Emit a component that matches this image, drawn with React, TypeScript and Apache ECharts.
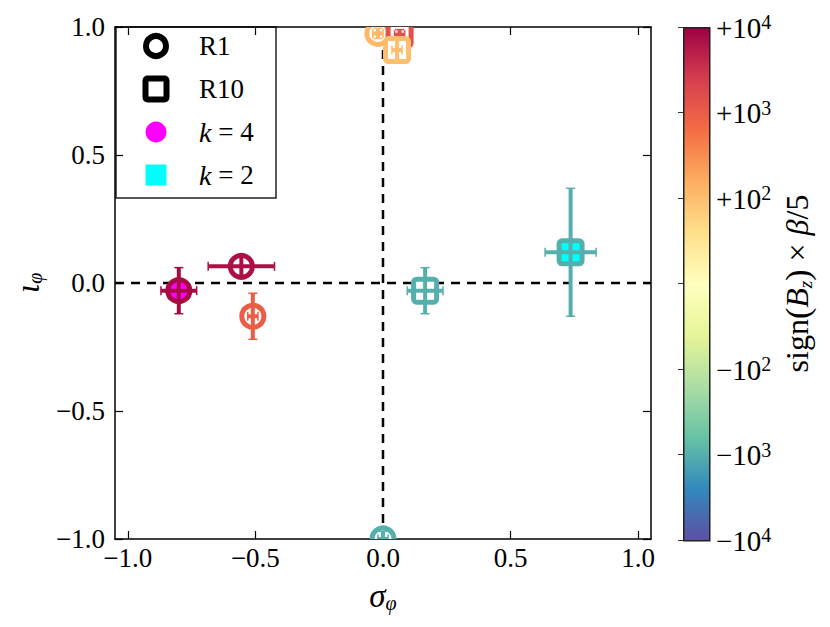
import React, { useEffect, useRef } from 'react';
import * as echarts from 'echarts';

// ---- data ----
const sigmaPhi = [-0.8, -0.555, -0.51, 0.165, 0.735, 0.0, -0.02, 0.065, 0.055];
const iotaPhi = [-0.03, 0.065, -0.13, -0.03, 0.12, -1.0, 0.975, 0.97, 0.91];
const sigmaErr = [0.07, 0.13, 0.02, 0.07, 0.1, 0.02, 0.02, 0.02, 0.02];
const iotaErr = [0.09, 0.035, 0.09, 0.09, 0.25, 0.03, 0.02, 0.02, 0.045];
const markerKind = ['R1', 'R1', 'R1', 'R10', 'R10', 'R1', 'R1', 'R10', 'R10'];
const faceKind = ['k4', 'none', 'none', 'none', 'k2', 'none', 'none', 'none', 'none'];
const signBzBeta = [8000, 7000, 1000, -1000, -1000, -1000, 120, 1500, 100];

const xTicks = [-1.0, -0.5, 0.0, 0.5, 1.0];
const cbarTicks = [-3, -2, -1, 0, 1, 2, 3];
const cbarLabels = ['−10|4', '−10|3', '−10|2', '', '+10|2', '+10|3', '+10|4'];
const legendNames = ['R1', 'R10', 'k = 4', 'k = 2'];

const spectral = ['#9e0142', '#d53e4f', '#f46d43', '#fdae61', '#fee08b', '#ffffbf', '#e6f598', '#abdda4', '#66c2a5', '#3288bd', '#5e4fa2'];
const faceColors: Record<string, string> = { k4: '#ff00ff', k2: '#00ffff', none: '#ffffff' };

const FONT = 'Liberation Serif';

function hexToRgb(h: string) {
  const n = parseInt(h.slice(1), 16);
  return [(n >> 16) & 255, (n >> 8) & 255, n & 255];
}
function symlogPos(v: number) {
  const a = Math.abs(v);
  const t = a < 100 ? a / 100 : Math.log10(a) - 1;
  return Math.sign(v) * t;
}
function colorFor(v: number) {
  const p = (symlogPos(v) + 3) / 6; // 0 = bottom (purple), 1 = top (crimson)
  const s = Math.max(0, Math.min(10, (1 - p) * 10));
  const i = Math.min(9, Math.floor(s));
  const f = s - i;
  const a = hexToRgb(spectral[i]);
  const b = hexToRgb(spectral[i + 1]);
  const c = a.map((x, k) => Math.round(x + (b[k] - x) * f));
  return `rgb(${c[0]},${c[1]},${c[2]})`;
}

const fmtTick = (v: number) => (v < 0 ? '−' : '') + Math.abs(v).toFixed(1);

export default function App() {
  const ref = useRef<HTMLDivElement>(null);
  useEffect(() => {
    const chart = echarts.init(ref.current!, null, { renderer: 'svg' });

    const pointData = sigmaPhi.map((x, i) => [x, iotaPhi[i], sigmaErr[i], iotaErr[i], signBzBeta[i], i]);

    const axisLine = { show: true, onZero: false, lineStyle: { color: '#000', width: 1.5 } };
    const tickStyle = { color: '#000', width: 1.2 };

    const legendX = 156;
    const legendYs = [46, 89, 132, 175];

    const option: any = {
      animation: false,
      backgroundColor: '#fff',
      grid: [
        { left: 115, top: 27, width: 536, height: 512 },
        { left: 683, top: 27, width: 26, height: 513 },
      ],
      xAxis: [
        {
          gridIndex: 0, type: 'value', min: -1.05, max: 1.05, position: 'bottom',
          axisLine, splitLine: { show: false },
          axisTick: { inside: true, length: 8, lineStyle: tickStyle, customValues: xTicks },
          axisLabel: { customValues: xTicks, formatter: fmtTick, fontFamily: FONT, fontSize: 27, color: '#000', margin: 5 },
          name: '{a|σ}{b|φ}', nameLocation: 'middle', nameGap: 40,
          nameTextStyle: {
            rich: {
              a: { fontFamily: FONT, fontStyle: 'italic', fontSize: 33, lineHeight: 34, verticalAlign: 'middle', color: '#000' },
              b: { fontFamily: FONT, fontStyle: 'italic', fontSize: 20, lineHeight: 34, verticalAlign: 'bottom', color: '#000' },
            },
          },
        },
        {
          gridIndex: 0, type: 'value', min: -1.05, max: 1.05, position: 'top',
          axisLine, splitLine: { show: false },
          axisTick: { inside: true, length: 8, lineStyle: tickStyle, customValues: xTicks },
          axisLabel: { show: false },
        },
        { gridIndex: 1, type: 'value', min: 0, max: 1, show: false },
      ],
      yAxis: [
        {
          gridIndex: 0, type: 'value', min: -1, max: 1, interval: 0.5, position: 'left',
          axisLine, splitLine: { show: false },
          axisTick: { inside: true, length: 8, lineStyle: tickStyle },
          axisLabel: { formatter: fmtTick, fontFamily: FONT, fontSize: 27, color: '#000', margin: 10 },
          name: '{a|ι}{b|φ}', nameLocation: 'middle', nameGap: 70, nameRotate: 90,
          nameTextStyle: {
            rich: {
              a: { fontFamily: FONT, fontStyle: 'italic', fontSize: 34, lineHeight: 36, verticalAlign: 'middle', color: '#000' },
              b: { fontFamily: FONT, fontStyle: 'italic', fontSize: 20, lineHeight: 36, verticalAlign: 'bottom', color: '#000' },
            },
          },
        },
        {
          gridIndex: 0, type: 'value', min: -1, max: 1, interval: 0.5, position: 'right',
          axisLine, splitLine: { show: false },
          axisTick: { inside: true, length: 8, lineStyle: tickStyle },
          axisLabel: { show: false },
        },
        {
          gridIndex: 1, type: 'value', min: -3, max: 3, interval: 1, position: 'right',
          axisLine: { show: false }, splitLine: { show: false },
          axisTick: { inside: true, length: 5, lineStyle: { color: '#333', width: 1 } },
          axisLabel: {
            margin: 7, color: '#000',
            formatter: (v: number) => {
              const idx = cbarTicks.indexOf(Math.round(v));
              const lab = idx >= 0 ? cbarLabels[idx] : '';
              if (!lab) return '';
              const [base, sup] = lab.split('|');
              return `{b|${base}}{s|${sup}}`;
            },
            rich: {
              b: { fontFamily: FONT, fontSize: 29, lineHeight: 30, verticalAlign: 'bottom', color: '#000' },
              s: { fontFamily: FONT, fontSize: 20, lineHeight: 30, verticalAlign: 'top', color: '#000' },
            },
          },
          name: '{t|sign}{p|(}{i|B}{z|z}{p|)}{t| × }{i|β}{t|/5}', nameLocation: 'middle', nameGap: 70, nameRotate: 90,
          nameTextStyle: {
            rich: {
              t: { fontFamily: FONT, fontSize: 32, lineHeight: 36, verticalAlign: 'middle', color: '#000' },
              p: { fontFamily: FONT, fontSize: 34, lineHeight: 36, verticalAlign: 'middle', color: '#000' },
              i: { fontFamily: FONT, fontStyle: 'italic', fontSize: 32, lineHeight: 36, verticalAlign: 'middle', color: '#000' },
              z: { fontFamily: FONT, fontStyle: 'italic', fontSize: 19, lineHeight: 36, verticalAlign: 'bottom', color: '#000' },
            },
          },
        },
      ],
      graphic: [
        {
          type: 'rect', z: -1, left: 683, top: 27,
          shape: { width: 26, height: 513 },
          style: {
            fill: new echarts.graphic.LinearGradient(0, 0, 0, 1,
              spectral.map((c, i) => ({ offset: i / (spectral.length - 1), color: c }))),
            stroke: '#222', lineWidth: 1.5,
          },
        },
        {
          type: 'group', z: 100,
          children: [
            { type: 'rect', shape: { x: 116, y: 27, width: 160, height: 171 }, style: { fill: '#fff', stroke: '#222', lineWidth: 1.5 } },
            { type: 'circle', shape: { cx: legendX, cy: legendYs[0], r: 10 }, style: { fill: '#fff', stroke: '#000', lineWidth: 6 } },
            { type: 'rect', shape: { x: legendX - 10.5, y: legendYs[1] - 10.5, width: 21, height: 21, r: 2 }, style: { fill: '#fff', stroke: '#000', lineWidth: 6 } },
            { type: 'circle', shape: { cx: legendX, cy: legendYs[2], r: 10.5 }, style: { fill: faceColors.k4 } },
            { type: 'rect', shape: { x: legendX - 10.5, y: legendYs[3] - 10.5, width: 21, height: 21 }, style: { fill: faceColors.k2 } },
            ...legendNames.map((n, i) => ({
              type: 'text', x: 199, y: legendYs[i],
              style: {
                text: n.startsWith('k') ? `{i|k}{t|${n.slice(1)}}` : `{t|${n}}`,
                verticalAlign: 'middle', align: 'left',
                rich: {
                  t: { fontFamily: FONT, fontSize: 27, fill: '#000' },
                  i: { fontFamily: FONT, fontSize: 28, fontStyle: 'italic', fill: '#000' },
                },
              },
            })),
          ],
        },
      ],
      series: [
        {
          type: 'line', xAxisIndex: 0, yAxisIndex: 0, symbol: 'none', z: 1,
          data: [[0, -1], [0, 1]],
          lineStyle: { color: '#000', width: 2.5, type: [9, 7] },
        },
        {
          type: 'line', xAxisIndex: 0, yAxisIndex: 0, symbol: 'none', z: 1,
          data: [[-1.05, 0], [1.05, 0]],
          lineStyle: { color: '#000', width: 2.5, type: [9, 7] },
        },
        {
          type: 'custom', xAxisIndex: 0, yAxisIndex: 0, z: 3, clip: true,
          data: pointData,
          renderItem: (params: any, api: any) => {
            const x = api.value(0), y = api.value(1), ex = api.value(2), ey = api.value(3), v = api.value(4);
            const idx = api.value(5);
            const col = colorFor(v);
            const face = faceColors[faceKind[idx]];
            const c = api.coord([x, y]);
            const l = api.coord([x - ex, y]);
            const r = api.coord([x + ex, y]);
            const t = api.coord([x, y + ey]);
            const b = api.coord([x, y - ey]);
            const marker = markerKind[idx] === 'R1'
              ? { type: 'circle', shape: { cx: c[0], cy: c[1], r: 11 }, style: { fill: face, stroke: col, lineWidth: 5 } }
              : { type: 'rect', shape: { x: c[0] - 11.5, y: c[1] - 11.5, width: 23, height: 23, r: 3 }, style: { fill: face, stroke: col, lineWidth: 5 } };
            const cap = 4.5;
            return {
              type: 'group',
              children: [
                marker,
                { type: 'line', shape: { x1: l[0], y1: l[1], x2: r[0], y2: r[1] }, style: { stroke: col, lineWidth: 4 } },
                { type: 'line', shape: { x1: t[0], y1: t[1], x2: b[0], y2: b[1] }, style: { stroke: col, lineWidth: 4 } },
                { type: 'line', shape: { x1: l[0], y1: l[1] - cap, x2: l[0], y2: l[1] + cap }, style: { stroke: col, lineWidth: 1.5 } },
                { type: 'line', shape: { x1: r[0], y1: r[1] - cap, x2: r[0], y2: r[1] + cap }, style: { stroke: col, lineWidth: 1.5 } },
                { type: 'line', shape: { x1: t[0] - cap, y1: t[1], x2: t[0] + cap, y2: t[1] }, style: { stroke: col, lineWidth: 1.5 } },
                { type: 'line', shape: { x1: b[0] - cap, y1: b[1], x2: b[0] + cap, y2: b[1] }, style: { stroke: col, lineWidth: 1.5 } },
              ],
            };
          },
        },
      ],
    };

    chart.setOption(option);
    return () => chart.dispose();
  }, []);
  return <div ref={ref} style={{ position: 'fixed', left: 0, top: 0, width: 830, height: 627 }} />;
}
